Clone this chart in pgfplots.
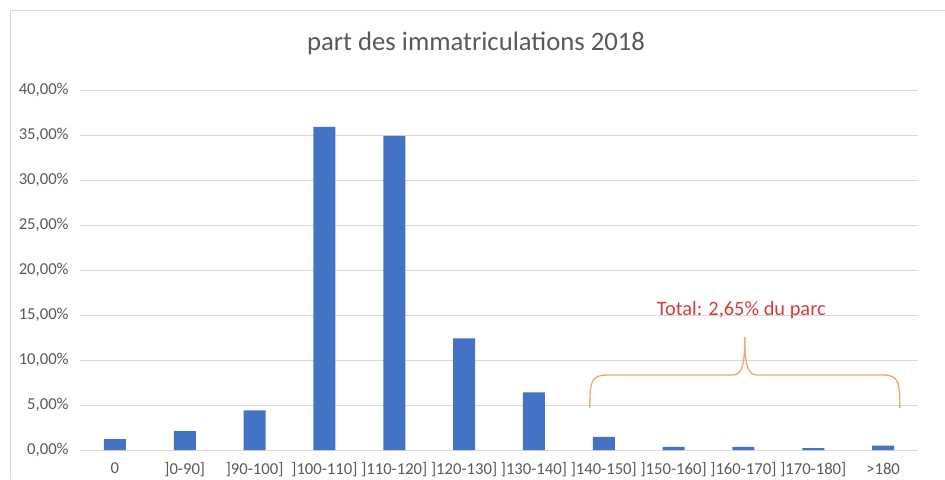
\documentclass[border=0pt]{standalone}
\usepackage{pgfplots}
\pgfplotsset{compat=1.18}
\usepackage{fontspec}
\setmainfont{Carlito}
\definecolor{barblue}{HTML}{4472C4}
\definecolor{gridgray}{HTML}{D9D9D9}
\definecolor{txtgray}{HTML}{595959}
\definecolor{annred}{HTML}{D63B3B}
\definecolor{braceor}{HTML}{F0A870}
\begin{document}
\begin{tikzpicture}
% canvas 945 x 479 px, 1px = 0.75pt
\path[use as bounding box] (0pt,0pt) rectangle (708.75pt,359.25pt);
\draw[gridgray,line width=0.9pt] (7.875pt,0pt) -- (7.875pt,351.4pt) -- (708.75pt,351.4pt);
\node[text=txtgray,font=\fontsize{20pt}{24pt}\selectfont] at (357pt,327pt) {part des immatriculations 2018};
\begin{axis}[
  at={(60pt,21.75pt)}, anchor=south west,
  scale only axis,
  width=628.5pt, height=270pt,
  xmin=-0.5, xmax=11.5,
  ymin=0, ymax=40,
  ytick={0,5,...,40},
  yticklabels={{0,00\%},{5,00\%},{10,00\%},{15,00\%},{20,00\%},{25,00\%},{30,00\%},{35,00\%},{40,00\%}},
  xtick={0,...,11},
  xticklabels={0,{]0-90]},{]90-100]},{]100-110]},{]110-120]},{]120-130]},{]130-140]},{]140-150]},{]150-160]},{]160-170]},{]170-180]},{>180}},
  ymajorgrids,
  grid style={gridgray,line width=0.75pt},
  axis line style={draw=none},
  axis x line*=bottom,
  x axis line style={draw=gridgray,line width=0.75pt},
  major tick length=0pt,
  tick label style={text=txtgray,font=\fontsize{12.5pt}{14pt}\selectfont},
  xticklabel style={yshift=-6pt},
  yticklabel style={xshift=-5pt},
  /pgf/number format/assume math mode=true,
  clip=false,
]
\addplot[ybar, bar width=16.5pt, fill=barblue, draw=none] coordinates {
(0,1.2) (1,2.1) (2,4.4) (3,35.9) (4,34.9) (5,12.4) (6,6.4) (7,1.45) (8,0.35) (9,0.35) (10,0.2) (11,0.5)
};
\draw[braceor,line width=1pt]
  (axis cs:6.8,4.67) .. controls (axis cs:6.8,7.6) and (axis cs:6.82,8.33) .. (axis cs:7.05,8.33)
  -- (axis cs:8.85,8.33) .. controls (axis cs:8.98,8.33) and (axis cs:9.02,9.5) .. (axis cs:9.02,12.56)
  .. controls (axis cs:9.02,9.5) and (axis cs:9.06,8.33) .. (axis cs:9.19,8.33)
  -- (axis cs:11.0,8.33) .. controls (axis cs:11.22,8.33) and (axis cs:11.24,7.6) .. (axis cs:11.24,4.67);
\node[text=annred,font=\fontsize{15.3pt}{18pt}\selectfont] at (axis cs:8.97,15.5) {Total: 2,65\% du parc};
\end{axis}
\end{tikzpicture}
\end{document}
